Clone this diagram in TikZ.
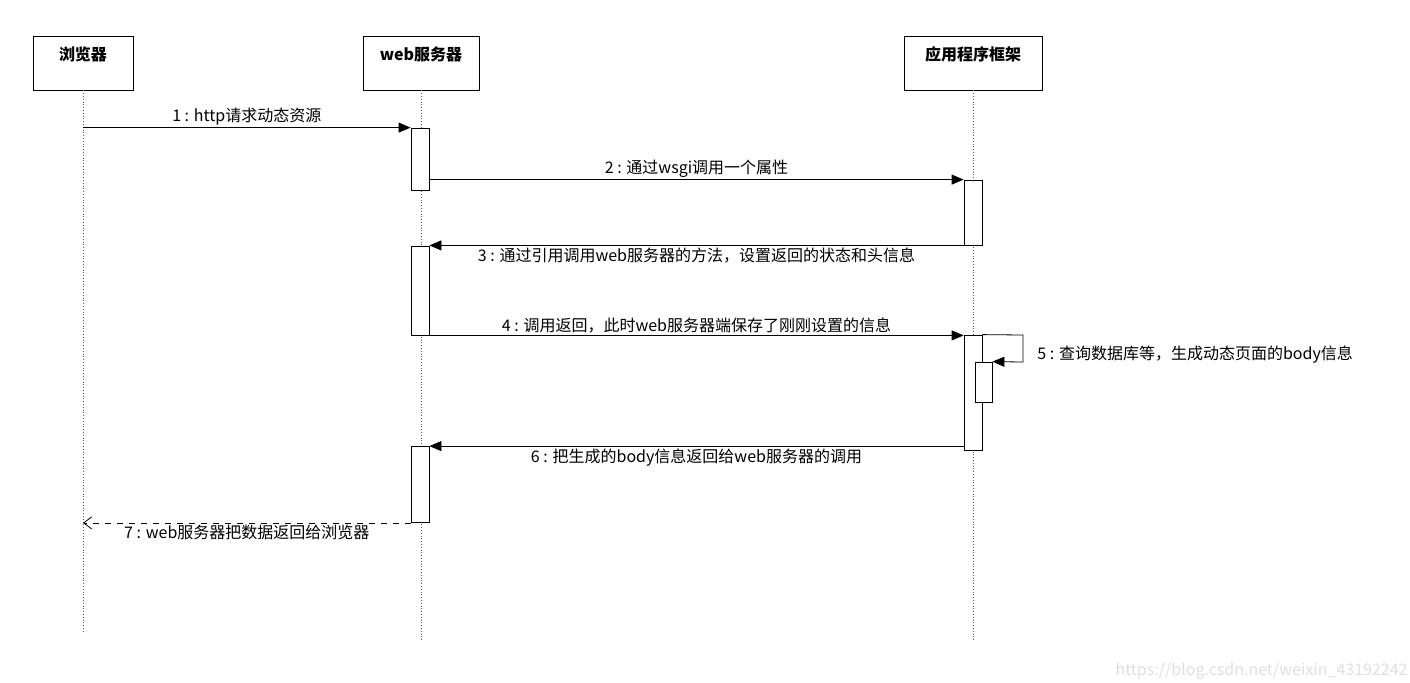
\documentclass[tikz,border=0pt]{standalone}
\usepackage{fontspec}
\setmainfont{Noto Sans CJK SC}
\usetikzlibrary{arrows.meta}
\tikzset{
  actor/.style={draw, fill=white, minimum width=100*0.5pt, minimum height=54*0.5pt, text depth=0pt},
  head/.style={font=\bfseries\fontsize{8}{9}\selectfont, inner sep=1pt},
  act/.style={draw, fill=white, minimum width=9pt, inner sep=0pt},
  life/.style={densely dotted, gray!70!black},
  msg/.style={-{Triangle[length=6pt,width=5pt]}},
  ret/.style={dashed, -{Straight Barb[length=4pt,width=6pt]}},
  lbl/.style={font=\fontsize{8}{9}\selectfont, inner sep=1pt}
}
\begin{document}
\begin{tikzpicture}[x=0.5pt,y=-0.5pt]
  \useasboundingbox (0,0) rectangle (1410,682);
  % lifelines
  \coordinate (Bend) at (83,632);
  \coordinate (Wend) at (421,640);
  \coordinate (Aend) at (973,640);
  \node[actor, minimum width=50pt] (Browser) at (83,63) {};
  \node[head] (BrowserT) at (83,54) {浏览器};
  \node[actor, minimum width=58pt] (Web) at (421,63) {};
  \node[head] (WebT) at (421,54) {web服务器};
  \node[actor, minimum width=69pt] (App) at (973,63) {};
  \node[head] (AppT) at (973,54) {应用程序框架};
  \draw[life] (Browser.south) -- (Bend);
  \draw[life] (Web.south) -- (Wend);
  \draw[life] (App.south) -- (Aend);

  % activations
  \node[act, minimum height=31pt] (W1) at (420,159) {};
  \node[act, minimum height=32.5pt] (A1) at (973,212.5) {};
  \node[act, minimum height=44.5pt] (W2) at (420,290.5) {};
  \node[act, minimum height=57.5pt] (A2) at (973,392.5) {};
  \node[act, minimum height=20pt, minimum width=8.5pt] (A3) at (983.5,382) {};
  \node[act, minimum height=38pt] (W3) at (420,484.5) {};
  \coordinate (Loop1) at (1023,335);
  \coordinate (Loop2) at (1023,362);

  % messages
  \draw[msg] (Browser.south |- W1.north) -- (W1.north west) node[lbl, midway, above] {1 : http请求动态资源};
  \draw[msg] (A1.north -| W1.east) -- (A1.north west) node[lbl, midway, above] {2 : 通过wsgi调用一个属性};
  \draw[msg] (A1.south west) -- (A1.south -| W2.east) node[lbl, midway, below] {3 : 通过引用调用web服务器的方法，设置返回的状态和头信息};
  \draw[msg] (W2.south east) -- (W2.south -| A2.west) node[lbl, midway, above] {4 : 调用返回，此时web服务器端保存了刚刚设置的信息};
  \draw[msg] (A2.north east) -- (Loop1) -- (Loop2) -- (A3.north east);
  \node[lbl, anchor=west] (L5) at (1035,355) {5 : 查询数据库等，生成动态页面的body信息};
  \draw[msg] (W3.north -| A2.west) -- (W3.north east) node[lbl, midway, below] {6 : 把生成的body信息返回给web服务器的调用};
  \draw[ret] (W3.south west) -- (W3.south -| Browser.south) node[lbl, midway, below] {7 : web服务器把数据返回给浏览器};
  \node[lbl, anchor=south east, text=gray!25] (mark) at (1410,682) {https://blog.csdn.net/weixin\_43192242};
\end{tikzpicture}
\end{document}
